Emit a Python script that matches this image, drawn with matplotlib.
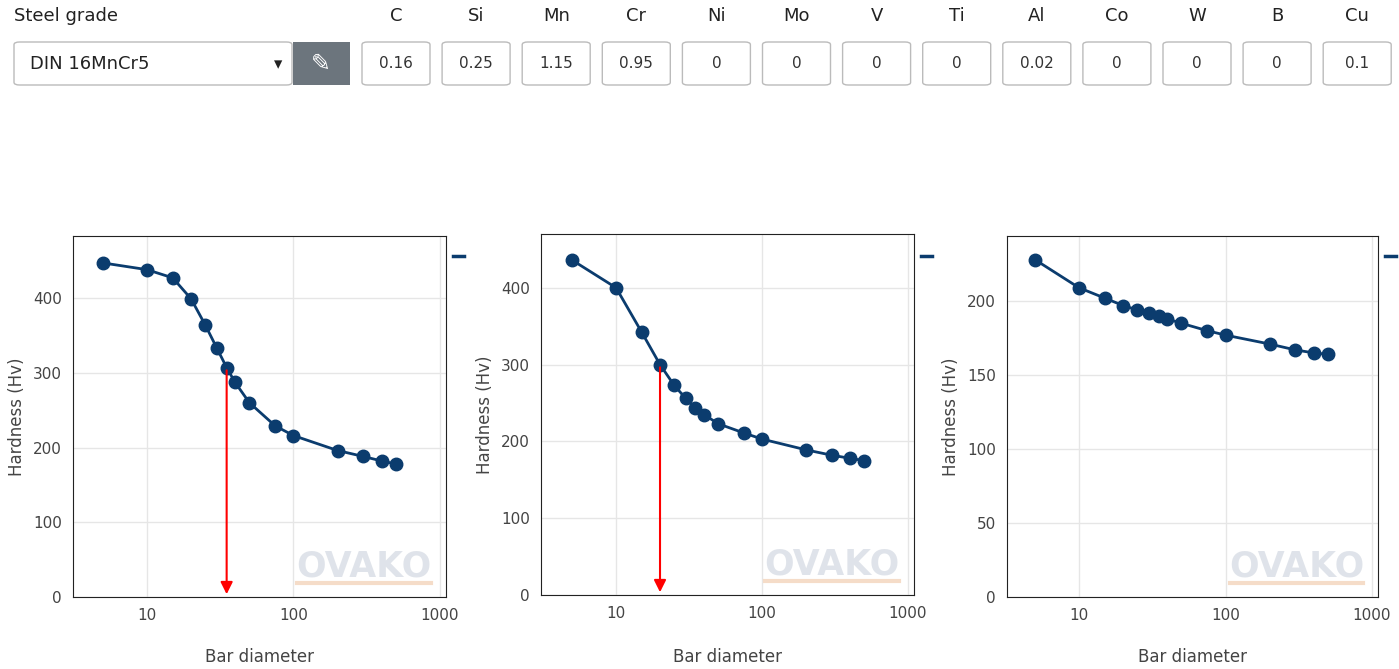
import numpy as np
import matplotlib.pyplot as plt
from matplotlib.patches import FancyBboxPatch, Rectangle

####################################################### Chart data
Diameter = [5, 10, 15, 20, 25, 30, 35, 40, 50, 75, 100, 200, 300, 400, 500]
Hardness_1 = [447, 438, 427, 399, 364, 333, 307, 287, 260, 229, 216, 196, 188, 182, 178]
Hardness_2 = [436, 400, 342, 300, 273, 256, 243, 235, 223, 211, 203, 189, 182, 178, 175]
Hardness_3 = [228, 209, 202, 197, 194, 192, 190, 188, 185, 180, 177, 171, 167, 165, 164]
Elements = ['C', 'Si', 'Mn', 'Cr', 'Ni', 'Mo', 'V', 'Ti', 'Al', 'Co', 'W', 'B', 'Cu']
Contents = ['0.16', '0.25', '1.15', '0.95', '0', '0', '0', '0', '0.02', '0', '0', '0', '0.1']
Arrow_x = [35, 20, None]
Arrow_y = [307, 300, None]
Y_top = [483, 470, 244]
Y_ticks = [[0, 100, 200, 300, 400], [0, 100, 200, 300, 400], [0, 50, 100, 150, 200]]
####################################################### Figure
W, H = 1399, 669
fig = plt.figure(figsize=(W / 100, H / 100), dpi=100)
plt.rcParams['font.family'] = 'DejaVu Sans'
col = '#0b3c6e'

def px(x, y, w, h):
    return [x / W, 1 - (y + h) / H, w / W, h / H]

####################################################### Top bar (steel grade + composition)
fig.text(14 / W, 1 - 16 / H, 'Steel grade', fontsize=13, va='center', color='#222222')
fig.patches.append(FancyBboxPatch((14 / W, 1 - 85 / H), 278 / W, 43 / H, boxstyle='round,pad=0,rounding_size=0.004',
                                  transform=fig.transFigure, fc='white', ec='#bbbbbb', lw=1))
fig.text(30 / W, 1 - 64 / H, 'DIN 16MnCr5', fontsize=13, va='center', color='#222222')
fig.text(278 / W, 1 - 64 / H, '\u25BE', fontsize=12, va='center', ha='center', color='#222222')
fig.patches.append(Rectangle((293 / W, 1 - 85 / H), 57 / W, 43 / H, transform=fig.transFigure, fc='#6c757d', ec='none'))
fig.text(321 / W, 1 - 64 / H, '\u270E', fontsize=17, va='center', ha='center', color='white')
for k, (el, val) in enumerate(zip(Elements, Contents)):
    x0 = 362 + k * 80.1
    fig.text((x0 + 34) / W, 1 - 16 / H, el, fontsize=13, va='center', ha='center', color='#222222')
    fig.patches.append(FancyBboxPatch((x0 / W, 1 - 85 / H), 68 / W, 43 / H, boxstyle='round,pad=0,rounding_size=0.004',
                                      transform=fig.transFigure, fc='white', ec='#bbbbbb', lw=1))
    fig.text((x0 + 34) / W, 1 - 64 / H, val, fontsize=11, va='center', ha='center', color='#333333')

####################################################### Charts
boxes = [(73, 236, 373, 361), (541, 234, 373, 361), (1007, 236, 371, 361)]
xlims = [(3.13, 1099), (3.06, 1099), (3.22, 1100)]
ylab_x = [17, 485, 951]
for i, y in enumerate([Hardness_1, Hardness_2, Hardness_3]):
    ax = fig.add_axes(px(*boxes[i]))
    ax.set_xscale('log')
    ax.plot(Diameter, y, '-', color=col, lw=2)
    ax.plot(Diameter, y, 'o', color=col, ms=9)
    ax.set_xlim(*xlims[i])
    ax.set_ylim(0, Y_top[i])
    ax.set_xticks([10, 100, 1000])
    ax.set_xticklabels(['10', '100', '1000'])
    ax.minorticks_off()
    ax.set_yticks(Y_ticks[i])
    ax.grid(True, color='#e6e6e6', lw=1)
    ax.tick_params(length=0, labelsize=11, colors='#444444', pad=8)
    for s in ax.spines.values():
        s.set_color('#222222')
    b = boxes[i]
    fig.text(ylab_x[i] / W, 1 - (b[1] + b[3] / 2) / H, 'Hardness (Hv)', fontsize=12, color='#444444',
             rotation=90, ha='center', va='center')
    fig.text((b[0] + b[2] / 2) / W, 1 - 657 / H, 'Bar diameter', fontsize=12, color='#444444',
             ha='center', va='center')
    ax.text(0.78, 0.085, 'OVAKO', transform=ax.transAxes, ha='center', va='center', fontsize=25,
            fontweight='bold', color='#d8dde5', alpha=0.8)
    ax.plot([0.6, 0.96], [0.04, 0.04], transform=ax.transAxes, color='#f5dcc8', lw=3)
    if Arrow_x[i] is not None:
        ax.annotate('', xy=(Arrow_x[i], 0), xytext=(Arrow_x[i], Arrow_y[i]),
                    arrowprops=dict(arrowstyle='-|>', color='red', lw=1.5, mutation_scale=18))
    fig.lines.append(plt.Line2D([(b[0] + b[2] + 7) / W, (b[0] + b[2] + 18) / W], [1 - 256 / H, 1 - 256 / H],
                                transform=fig.transFigure, color=col, lw=2.5))

fig.savefig('out.png', dpi=100)
